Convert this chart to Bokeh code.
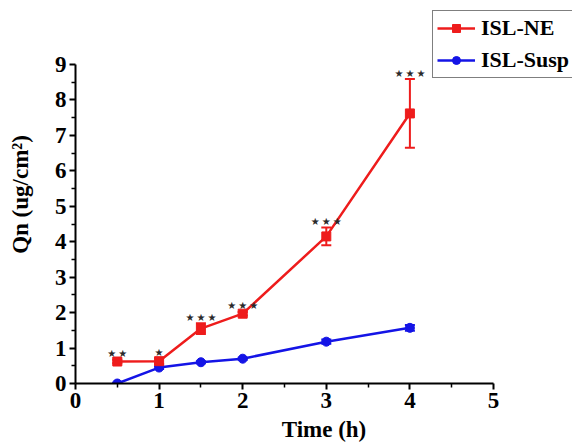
from bokeh.plotting import figure
from bokeh.models import Range1d, Whisker, ColumnDataSource, Legend, LegendItem, FixedTicker
from bokeh.core.properties import value
from bokeh.embed import file_html
from bokeh.resources import INLINE

# data
time_h = [0.5, 1, 1.5, 2, 3, 4]
ne_mean = [0.62, 0.63, 1.55, 1.97, 4.15, 7.62]
ne_err = [0.05, 0.08, 0.15, 0.05, 0.25, 0.97]
susp_mean = [0.0, 0.45, 0.60, 0.70, 1.18, 1.57]
susp_err = [0.02, 0.04, 0.03, 0.03, 0.06, 0.08]
sig_labels = ["★\u2009★", "★", "★\u2009★\u2009★", "★\u2009★\u2009★", "★\u2009★\u2009★", "★\u2009★\u2009★"]
x_ticks = [0, 1, 2, 3, 4, 5]
y_ticks = [0, 1, 2, 3, 4, 5, 6, 7, 8, 9]

RED = "#ee1c1c"
BLUE = "#1414e6"
FONT = "Liberation Serif"

p = figure(width=574, height=447, output_backend="svg", toolbar_location=None,
           x_range=Range1d(0, 5.945), y_range=Range1d(0, 10.665),
           min_border_left=75, min_border_right=2, min_border_top=5, min_border_bottom=64)
p.grid.visible = False
p.outline_line_color = None
p.background_fill_color = "white"

ne_src = ColumnDataSource(dict(x=time_h, y=ne_mean,
                               lo=[m - e for m, e in zip(ne_mean, ne_err)],
                               hi=[m + e for m, e in zip(ne_mean, ne_err)],
                               lab=sig_labels))
su_src = ColumnDataSource(dict(x=time_h, y=susp_mean,
                               lo=[m - e for m, e in zip(susp_mean, susp_err)],
                               hi=[m + e for m, e in zip(susp_mean, susp_err)]))

# blue series
bl = p.line("x", "y", source=su_src, line_color=BLUE, line_width=2.5)
bw = Whisker(base="x", lower="lo", upper="hi", source=su_src, line_color=BLUE, line_width=2)
for h in (bw.upper_head, bw.lower_head):
    h.line_color = BLUE
    h.size = 10
    h.line_width = 2
p.add_layout(bw)
bm = p.scatter("x", "y", source=su_src, marker="circle", size=9, fill_color=BLUE, line_color=BLUE)

# red series
rl = p.line("x", "y", source=ne_src, line_color=RED, line_width=2.5)
rw = Whisker(base="x", lower="lo", upper="hi", source=ne_src, line_color=RED, line_width=2)
for h in (rw.upper_head, rw.lower_head):
    h.line_color = RED
    h.size = 10
    h.line_width = 2
p.add_layout(rw)
rm = p.scatter("x", "y", source=ne_src, marker="square", size=9, fill_color=RED, line_color=RED)

# significance stars
p.text("x", "hi", text="lab", source=ne_src, text_align="center", text_baseline="middle",
       y_offset=-6, text_font=value("DejaVu Sans"), text_font_size="10px",
       text_color="#2a2a2a")

# axes
for ax in (p.xaxis[0], p.yaxis[0]):
    ax.axis_line_width = 2
    ax.axis_line_color = "black"
    ax.major_tick_line_width = 2
    ax.minor_tick_line_width = 1.5
    ax.major_tick_out = 6
    ax.major_tick_in = 0
    ax.minor_tick_out = 4
    ax.minor_tick_in = 0
    ax.major_label_text_font = FONT
    ax.major_label_text_font_style = "bold"
    ax.major_label_text_font_size = "23px"
    ax.major_label_text_color = "black"
    ax.axis_label_text_font = FONT
    ax.axis_label_text_font_style = "bold"
    ax.axis_label_text_font_size = "23px"
    ax.axis_label_text_color = "black"
    ax.major_label_standoff = 3

p.xaxis.bounds = (0, 5)
p.yaxis.bounds = (0, 9)
p.xaxis.ticker = FixedTicker(ticks=x_ticks, minor_ticks=[0.5, 1.5, 2.5, 3.5, 4.5])
p.yaxis.ticker = FixedTicker(ticks=y_ticks, minor_ticks=[i + 0.5 for i in range(9)])
p.xaxis.axis_label = "Time (h)"
p.yaxis.axis_label = "Qn (ug/cm²)"
p.xaxis.axis_label_standoff = 6
p.yaxis.axis_label_standoff = 19

legend = Legend(items=[LegendItem(label="ISL-NE", renderers=[rl, rm]),
                       LegendItem(label="ISL-Susp", renderers=[bl, bm])],
                location=(357, 305))
legend.label_text_font = FONT
legend.label_text_font_style = "bold"
legend.label_text_font_size = "22px"
legend.label_text_color = "black"
legend.border_line_color = "black"
legend.border_line_width = 1.5
legend.background_fill_alpha = 1
legend.glyph_width = 38
legend.glyph_height = 20
legend.label_height = 20
legend.spacing = 6
legend.padding = 4
legend.margin = 0
legend.label_standoff = 6
p.add_layout(legend, "center")

open("out.html", "w").write(file_html(p, INLINE))
